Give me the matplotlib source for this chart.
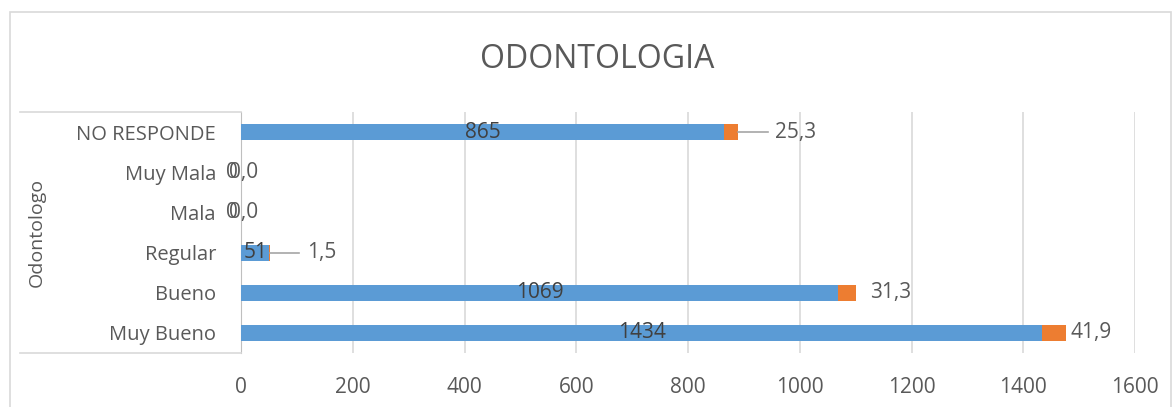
import matplotlib.pyplot as plt
from matplotlib.patches import Rectangle
from matplotlib.lines import Line2D

categorias = ["Muy Bueno", "Bueno", "Regular", "Mala", "Muy Mala", "NO RESPONDE"]
cantidad = [1434, 1069, 51, 0, 0, 865]
porcentaje = [41.9, 31.3, 1.5, 0.0, 0.0, 25.3]
ticks_x = [0, 200, 400, 600, 800, 1000, 1200, 1400, 1600]

azul = "#5B9BD5"
naranja = "#ED7D31"
gris_texto = "#595959"
gris_linea = "#D9D9D9"

plt.rcParams['font.family'] = ['Open Sans', 'DejaVu Sans']

fig = plt.figure(figsize=(11.74, 4.07), dpi=100)
ax = fig.add_axes([241 / 1174, 54 / 407, 894 / 1174, 241 / 407])

y = list(range(len(categorias)))
ax.barh(y, cantidad, height=0.4, color=azul, zorder=3)
ax.barh(y, porcentaje, left=cantidad, height=0.4, color=naranja, zorder=3)

ax.set_xlim(0, 1600)
ax.set_ylim(-0.5, 5.5)
ax.set_xticks(ticks_x)
ax.set_xticklabels([str(t) for t in ticks_x], fontsize=15)
ax.set_yticks(y)
ax.set_yticklabels(categorias, fontsize=14.5)
ax.tick_params(axis='both', length=0, colors=gris_texto)
ax.tick_params(axis='y', pad=18)
ax.tick_params(axis='x', pad=17)
ax.grid(axis='x', color=gris_linea, linewidth=1.2, zorder=0)
for s in ['top', 'right', 'bottom']:
    ax.spines[s].set_visible(False)
ax.spines['left'].set_color("#BFBFBF")

# etiquetas de datos
fs = 15
for i, (c, p) in enumerate(zip(cantidad, porcentaje)):
    fin = c + p
    txt_p = f"{p:.1f}".replace(".", ",")
    if c == 0:
        # en el original la cantidad y el porcentaje quedan superpuestos
        ax.text(-17, i, "0", ha='center', va='center', fontsize=fs, color=gris_texto, clip_on=False)
        ax.text(4, i, txt_p, ha='center', va='center', fontsize=fs, color=gris_texto, clip_on=False)
        continue
    ax.text(c / 2, i, str(c), ha='center', va='center', fontsize=fs, color="#404040", zorder=4)
    if categorias[i] in ("NO RESPONDE", "Regular"):
        ax.plot([fin, fin + 52], [i, i], color="#A6A6A6", linewidth=1.2, zorder=4)
        ax.text(fin + 65, i, txt_p, ha='left', va='center', fontsize=fs, color=gris_texto)
    elif categorias[i] == "Bueno":
        ax.text(fin + 25, i, txt_p, ha='left', va='center', fontsize=fs, color=gris_texto)
    else:
        ax.text(fin + 8, i, txt_p, ha='left', va='center', fontsize=fs, color=gris_texto)

ax.set_ylabel("Odontologo", fontsize=14, color=gris_texto, labelpad=0)
ax.yaxis.set_label_coords(-0.218, 0.5)

fig.suptitle("ODONTOLOGIA", x=597 / 1174, y=1 - 60 / 407, va='center',
             fontsize=23, color=gris_texto)

# caja de etiquetas de categoria
for yy in (112, 353):
    fig.add_artist(Line2D([20 / 1174, 241 / 1174], [1 - yy / 407, 1 - yy / 407],
                          color=gris_linea, linewidth=1.2))

# borde exterior
fig.add_artist(Rectangle((10 / 1174, -0.02), 1161 / 1174, 1 - 12 / 407 + 0.02,
                         fill=False, edgecolor=gris_linea, linewidth=1.2))

fig.savefig("out.png", dpi=100)
